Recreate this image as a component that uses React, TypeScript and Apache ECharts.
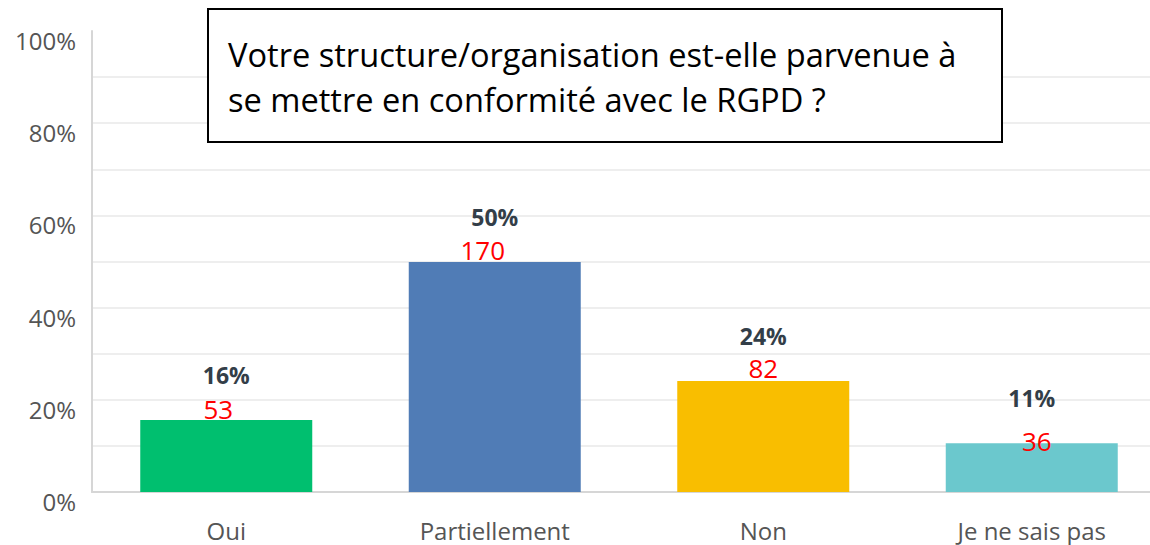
import React, { useEffect, useRef } from "react";
import * as echarts from "echarts";

const categories = ["Oui", "Partiellement", "Non", "Je ne sais pas"];
const percentValues = [15.6, 49.9, 24.1, 10.6];
const percentLabels = ["16%", "50%", "24%", "11%"];
const counts = [53, 170, 82, 36];
const barColors = ["#00BF6F", "#507CB6", "#F9BE00", "#6BC8CD"];
const countLabelShift = [
  { dx: -8, up: 11 },
  { dx: -12, up: 12 },
  { dx: 0, up: 13 },
  { dx: 5, up: 2 },
];
const yTicks = [0, 10, 20, 30, 40, 50, 60, 70, 80, 90, 100];
const titleLines = [
  "Votre structure/organisation est-elle parvenue à",
  "se mettre en conformité avec le RGPD ?",
];

export default function App() {
  const ref = useRef<HTMLDivElement>(null);
  useEffect(() => {
    document.body.style.margin = "0";
    document.body.style.overflow = "hidden";
    document.documentElement.style.overflow = "hidden";
    const chart = echarts.init(ref.current!, null, { renderer: "svg" });
    const gridColors = yTicks.map((t) => (t === 100 ? "rgba(0,0,0,0)" : "#eeeeee"));
    chart.setOption({
      animation: false,
      grid: { left: 92, right: 0, top: 31, bottom: 53, containLabel: false },
      xAxis: {
        type: "category",
        data: categories,
        axisLine: { show: true, lineStyle: { color: "#d6d6d6", width: 2 } },
        axisTick: { show: false },
        axisLabel: {
          color: "#555555",
          fontFamily: "Open Sans",
          fontSize: 24,
          lineHeight: 22,
          margin: 27,
        },
      },
      yAxis: {
        type: "value",
        min: 0,
        max: 100,
        interval: 10,
        axisLine: { show: true, lineStyle: { color: "#d6d6d6", width: 2 } },
        axisTick: { show: false },
        splitLine: { show: true, lineStyle: { color: gridColors, width: 2 } },
        axisLabel: {
          color: "#555555",
          fontFamily: "Open Sans",
          fontSize: 24,
          margin: 16,
          verticalAlign: "top",
          lineHeight: 19,
          formatter: (v: number) => (v % 20 === 0 ? v + "%" : ""),
        },
      },
      series: [
        {
          type: "bar",
          barWidth: 172,
          data: percentValues.map((v, i) => ({
            value: v,
            itemStyle: { color: barColors[i] },
          })),
          label: {
            show: true,
            position: "top",
            distance: 45,
            verticalAlign: "middle",
            lineHeight: 18,
            formatter: (p: any) => percentLabels[p.dataIndex],
            fontFamily: "Open Sans",
            fontWeight: "bold",
            fontSize: 23,
            color: "#333e48",
          },
        },
        {
          type: "bar",
          barWidth: 172,
          barGap: "-100%",
          silent: true,
          itemStyle: { color: "rgba(0,0,0,0)" },
          data: percentValues.map((v, i) => ({
            value: v,
            label: {
              show: true,
              position: "top",
              verticalAlign: "middle",
              lineHeight: 20,
              distance: countLabelShift[i].up,
              offset: [countLabelShift[i].dx, 0],
              formatter: String(counts[i]),
              fontFamily: "Open Sans",
              fontSize: 26,
              color: "#ff0000",
            },
          })),
        },
      ],
      graphic: [
        {
          type: "rect",
          shape: { x: 208, y: 9, width: 794, height: 133 },
          style: { fill: "#ffffff", stroke: "#000000", lineWidth: 2 },
          z: 100,
        },
        {
          type: "text",
          x: 228,
          y: 32,
          z: 101,
          style: {
            text: titleLines.join("\n"),
            fontFamily: "Open Sans",
            fontSize: 32.6,
            lineHeight: 45,
            fill: "#000000",
            verticalAlign: "top",
          },
        },
      ],
    });
    return () => chart.dispose();
  }, []);
  return <div ref={ref} style={{ width: 1166, height: 545 }} />;
}
